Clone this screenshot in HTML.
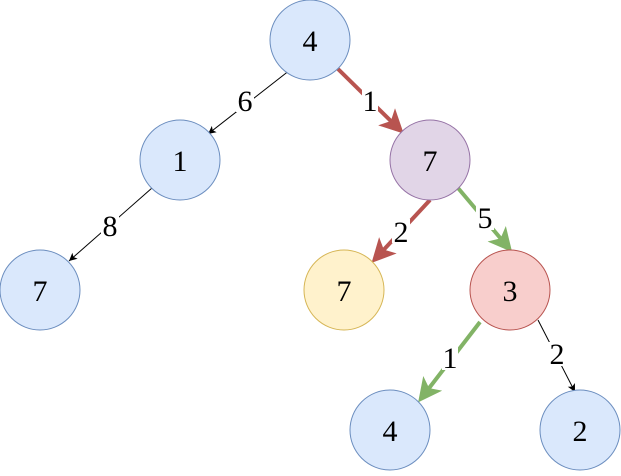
<!DOCTYPE html>
<html><head><style>body{margin:0;background:#fff} svg text{font-family:"Liberation Serif","DejaVu Serif",serif !important;font-size:30px}</style></head><body>
<svg width="621" height="471" xmlns="http://www.w3.org/2000/svg" font-family="Liberation Serif" font-size="30">
<defs>
<marker id="r" markerWidth="6" markerHeight="6" refX="4" refY="3" orient="auto" markerUnits="strokeWidth"><path d="M0,0 L6,3 L0,6 L1.5,3z" fill="#b85450"/></marker>
<marker id="g" markerWidth="6" markerHeight="6" refX="4" refY="3" orient="auto" markerUnits="strokeWidth"><path d="M0,0 L6,3 L0,6 L1.5,3z" fill="#82b366"/></marker>
<marker id="k" markerWidth="10" markerHeight="10" refX="8" refY="4" orient="auto" markerUnits="userSpaceOnUse"><path d="M0,0 L8,4 L0,8 L2,4z" fill="#000"/></marker>
</defs>
<g stroke-width="4" fill="none">
<line x1="337" y1="68" x2="398" y2="128" stroke="#b85450" marker-end="url(#r)"/>
<line x1="430" y1="200" x2="377" y2="257" stroke="#b85450" marker-end="url(#r)"/>
<line x1="458" y1="188" x2="507" y2="246" stroke="#82b366" marker-end="url(#g)"/>
<line x1="480" y1="322" x2="423" y2="396" stroke="#82b366" marker-end="url(#g)"/>
</g>
<g stroke="#000" stroke-width="1">
<line x1="290" y1="70" x2="208" y2="134" marker-end="url(#k)"/>
<line x1="152" y1="188" x2="69" y2="261" marker-end="url(#k)"/>
<line x1="538" y1="320" x2="575" y2="392" marker-end="url(#k)"/>
</g>
<g stroke-width="1">
<circle cx="310" cy="40" r="40" fill="#dae8fc" stroke="#6c8ebf"/>
<circle cx="180" cy="160" r="40" fill="#dae8fc" stroke="#6c8ebf"/>
<circle cx="430" cy="160" r="40" fill="#e1d5e7" stroke="#9673a6"/>
<circle cx="40" cy="290" r="40" fill="#dae8fc" stroke="#6c8ebf"/>
<circle cx="344" cy="290" r="40" fill="#fff2cc" stroke="#d6b656"/>
<circle cx="510" cy="290" r="40" fill="#f8cecc" stroke="#b85450"/>
<circle cx="390" cy="430" r="40" fill="#dae8fc" stroke="#6c8ebf"/>
<circle cx="580" cy="430" r="40" fill="#dae8fc" stroke="#6c8ebf"/>
</g>
<g text-anchor="middle" font-family="Liberation Serif">
<text x="310" y="51">4</text><text x="180" y="171">1</text><text x="430" y="171">7</text>
<text x="40" y="301">7</text><text x="344" y="301">7</text><text x="510" y="301">3</text>
<text x="390" y="441">4</text><text x="580" y="441">2</text>
</g>
<g text-anchor="middle" font-family="Liberation Serif">
<rect x="236" y="88" width="18" height="24" fill="#fff"/><text x="245" y="111">6</text>
<rect x="362" y="89" width="16" height="24" fill="#fff"/><text x="370" y="111">1</text>
<rect x="101" y="213" width="18" height="24" fill="#fff"/><text x="110" y="236">8</text>
<rect x="392" y="219" width="18" height="24" fill="#fff"/><text x="401" y="242">2</text>
<rect x="476" y="206" width="18" height="24" fill="#fff"/><text x="485" y="228">5</text>
<rect x="442" y="346" width="16" height="24" fill="#fff"/><text x="450" y="368">1</text>
<rect x="548" y="342" width="18" height="24" fill="#fff"/><text x="557" y="364">2</text>
</g>
</svg>
</body></html>
